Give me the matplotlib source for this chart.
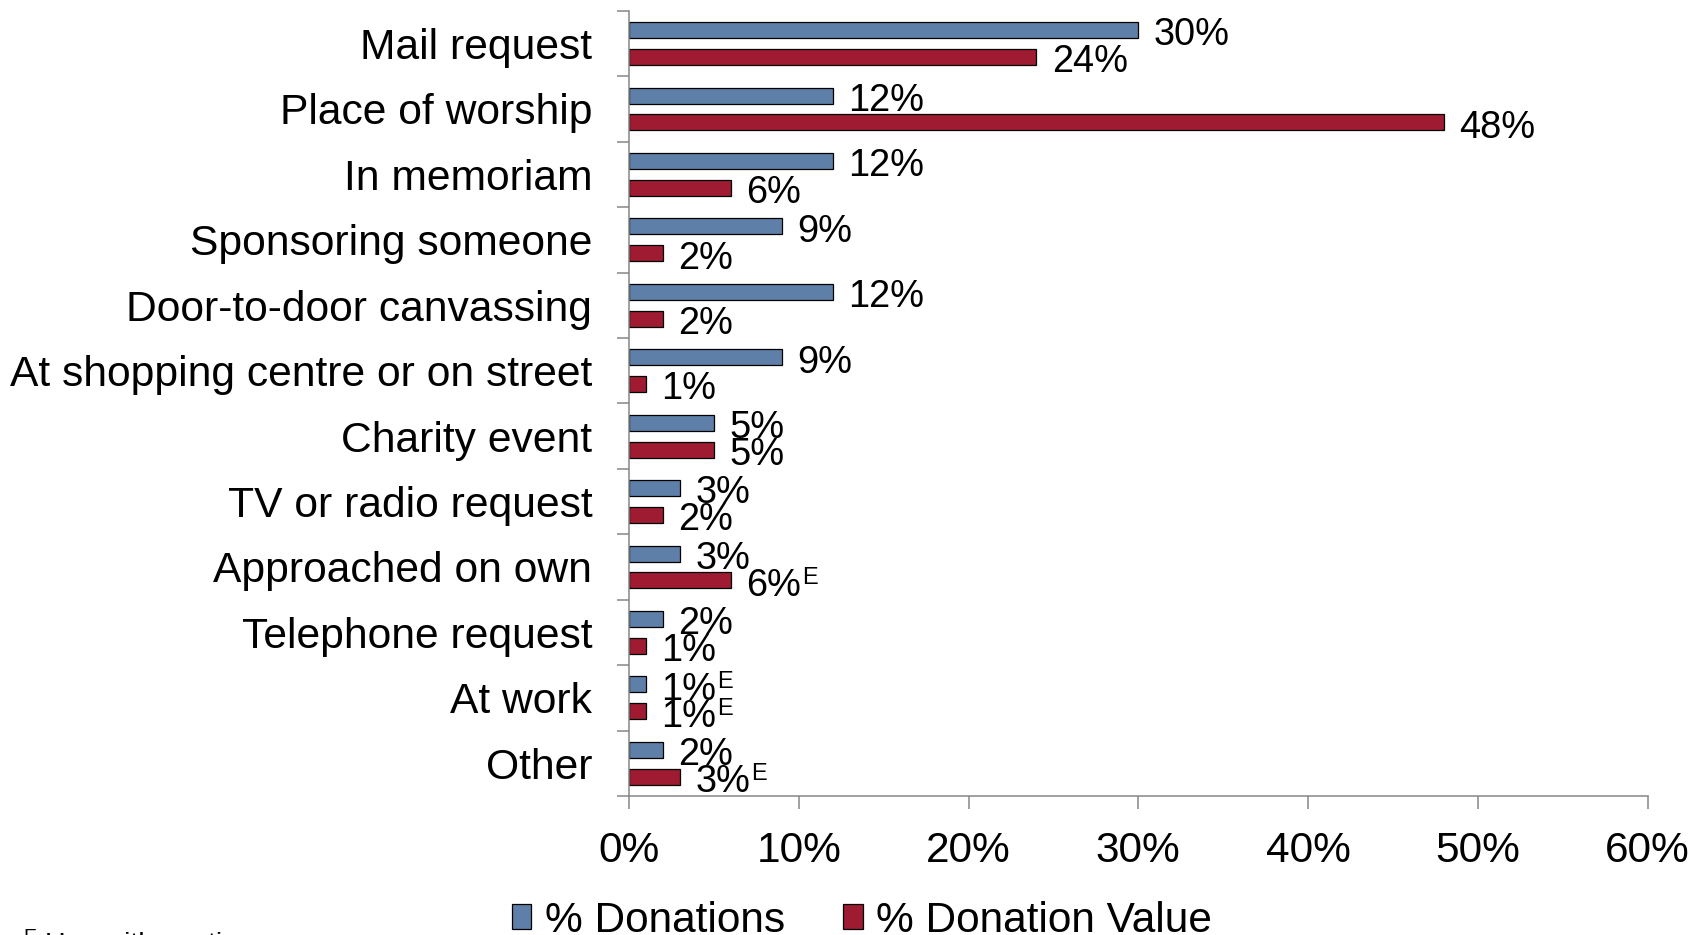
import matplotlib
matplotlib.use("Agg")
import matplotlib.pyplot as plt
import numpy as np

plt.rcParams['font.family'] = ['Liberation Sans', 'DejaVu Sans']

categories = ['Mail request', 'Place of worship', 'In memoriam', 'Sponsoring someone',
              'Door-to-door canvassing', 'At shopping centre or on street', 'Charity event',
              'TV or radio request', 'Approached on own', 'Telephone request', 'At work', 'Other']
donations = [30, 12, 12, 9, 12, 9, 5, 3, 3, 2, 1, 2]
donation_value = [24, 48, 6, 2, 2, 1, 5, 2, 6, 1, 1, 3]
donations_flag = [False, False, False, False, False, False, False, False, False, False, True, False]
value_flag = [False, False, False, False, False, False, False, False, True, False, True, True]
series_names = ['% Donations', '% Donation Value']
x_ticks = [0, 10, 20, 30, 40, 50, 60]
footnote = 'Use with caution'

BLUE = '#5D7FA8'
RED = '#9E1B32'
GRAY = '#868686'

fig = plt.figure(figsize=(16.94, 9.35), dpi=100)
ax = fig.add_axes([0.3713, 0.1487, 0.9726 - 0.3713, 0.9884 - 0.1487])

y = np.arange(len(categories))
h = 0.245
off = 0.205
b1 = ax.barh(y - off, donations, height=h, color=BLUE, edgecolor='black', linewidth=0.9, label=series_names[0])
b2 = ax.barh(y + off, donation_value, height=h, color=RED, edgecolor='black', linewidth=0.9, label=series_names[1])

def add_labels(vals, ys, flags):
    for v, yy, f in zip(vals, ys, flags):
        t = ax.annotate(f"{v}%", xy=(v, yy), xytext=(11, -3.8), textcoords='offset points',
                        ha='left', va='center', fontsize=27.4, color='black')
        if f:
            ax.annotate("E", xy=(1, 1), xycoords=t, xytext=(0.5, 0.5), textcoords='offset points',
                        ha='left', va='top', fontsize=17, color='black')

add_labels(donations, y - off, donations_flag)
add_labels(donation_value, y + off, value_flag)

ax.set_xlim(0, 60)
ax.set_ylim(len(categories) - 0.5, -0.5)
ax.set_xticks(x_ticks)
ax.set_xticklabels([f"{v}%" for v in x_ticks], fontsize=30.5)

ax.set_yticks(np.arange(-0.5, len(categories), 1.0))
ax.set_yticklabels([])
ax.set_yticks(y, minor=True)
ax.set_yticklabels(categories, minor=True, fontsize=30.7)
ax.tick_params(axis='y', which='minor', length=0, pad=26.5)
ax.tick_params(axis='y', which='major', length=8.6, width=1.1, color=GRAY, direction='out')
ax.tick_params(axis='x', which='major', length=9, width=1.1, color=GRAY, direction='out', pad=16)

for s in ['top', 'right']:
    ax.spines[s].set_visible(False)
for s in ['left', 'bottom']:
    ax.spines[s].set_color(GRAY)
    ax.spines[s].set_linewidth(1.1)

leg = fig.legend(handles=[b1, b2], labels=series_names, loc='center', bbox_to_anchor=(0.5086, 0.0155),
                 ncol=2, frameon=False, fontsize=30.5, handlelength=0.47, handleheight=0.5,
                 handletextpad=0.31, columnspacing=1.37, borderpad=0, borderaxespad=0)

fig.text(23 / 1694, -0.0075, "E", fontsize=14, ha='left', va='baseline')
fig.text(45 / 1694, -0.0185, footnote, fontsize=20.5, ha='left', va='baseline')

fig.savefig('out.png', dpi=100)
